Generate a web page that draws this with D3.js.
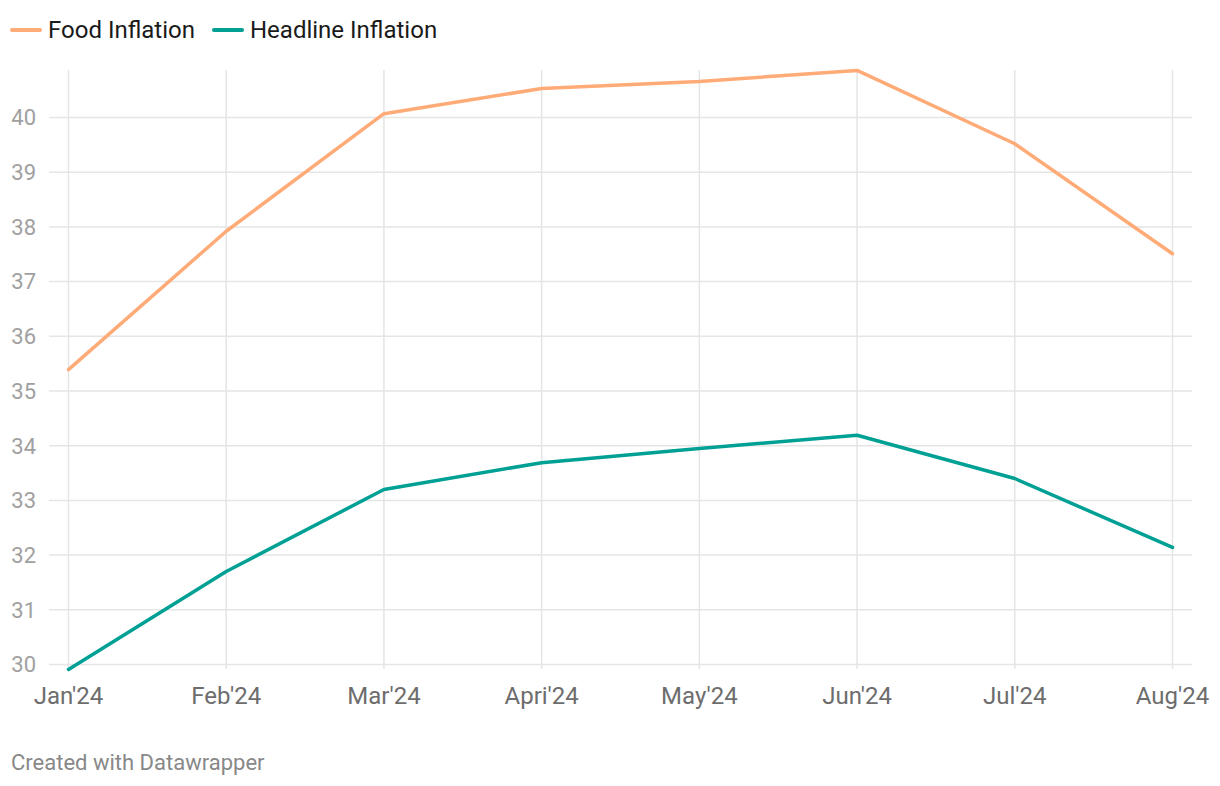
<!DOCTYPE html>
<html>
<head>
<meta charset="utf-8">
<script src="https://cdn.jsdelivr.net/npm/d3@7"></script>
<style>
  body { margin: 0; background: #fff; font-family: Roboto, sans-serif; }
</style>
</head>
<body>
<script>
var months = ["Jan'24", "Feb'24", "Mar'24", "Apri'24", "May'24", "Jun'24", "Jul'24", "Aug'24"];
var foodInflation = [35.39, 37.92, 40.07, 40.53, 40.66, 40.86, 39.52, 37.51];
var headlineInflation = [29.91, 31.70, 33.20, 33.69, 33.95, 34.19, 33.40, 32.14];
var yTicks = [30, 31, 32, 33, 34, 35, 36, 37, 38, 39, 40];
var seriesNames = ["Food Inflation", "Headline Inflation"];
var seriesColors = ["#ffab78", "#00a094"];

var W = 1220, H = 786;
var svg = d3.select("body").append("svg").attr("width", W).attr("height", H);

var x = d3.scalePoint().domain(months).range([68.5, 1172.5]);
var y = d3.scaleLinear().domain([30, 40]).range([664.5, 117.5]);

// horizontal grid + y labels
var gy = svg.append("g");
yTicks.forEach((t) => {
    gy.append("line")
        .attr("x1", 49).attr("x2", 1192)
        .attr("y1", y(t)).attr("y2", y(t))
        .attr("stroke", "#e5e5e5").attr("stroke-width", 1.5);
    gy.append("text")
        .attr("x", 36).attr("y", y(t) + 7.8)
        .attr("text-anchor", "end")
        .attr("font-size", 22).attr("fill", "#a0a0a0")
        .text(t);
});

// vertical grid + x labels
var gx = svg.append("g");
months.forEach((m, i) => {
    gx.append("line")
        .attr("x1", x(m)).attr("x2", x(m))
        .attr("y1", 70).attr("y2", 669)
        .attr("stroke", "#e5e5e5").attr("stroke-width", 1.5);
    gx.append("text")
        .attr("x", x(m)).attr("y", 704)
        .attr("text-anchor", "middle")
        .attr("font-size", 24).attr("fill", "#6d6d6d")
        .text(m);
});

var line = d3.line()
    .x((d, i) => x(months[i]))
    .y((d) => y(d));

[foodInflation, headlineInflation].forEach((vals, i) => {
    svg.append("path")
        .datum(vals)
        .attr("d", line)
        .attr("fill", "none")
        .attr("stroke", seriesColors[i])
        .attr("stroke-width", 3.5)
        .attr("stroke-linejoin", "round")
        .attr("stroke-linecap", "round");
});

// legend
var legendX = [12, 214];
seriesNames.forEach((n, i) => {
    var g = svg.append("g").attr("transform", "translate(" + legendX[i] + ",30)");
    g.append("line").attr("x1", 0).attr("x2", 28).attr("y1", 0).attr("y2", 0)
        .attr("stroke", seriesColors[i]).attr("stroke-width", 4).attr("stroke-linecap", "round");
    g.append("text").attr("x", 36).attr("y", 8.2)
        .attr("font-size", 24).attr("fill", "#1a1a1a")
        .text(n);
});

svg.append("text")
    .attr("x", 11).attr("y", 770)
    .attr("font-size", 22).attr("fill", "#888")
    .text("Created with Datawrapper");
</script>
</body>
</html>
